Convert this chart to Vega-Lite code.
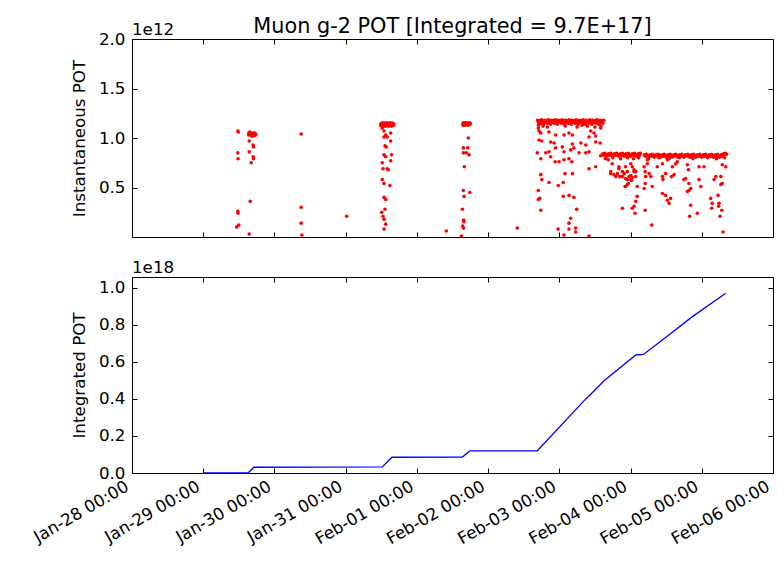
{
"$schema": "https://vega.github.io/schema/vega-lite/v6.json",
"padding": {"left": 30, "top": 15, "right": 8, "bottom": 5},
"background": "white",
"config": {
  "font": "DejaVu Sans",
  "view": {"stroke": "#000000", "strokeWidth": 1},
  "axis": {"grid": false, "domain": false, "tickColor": "#000000", "tickSize": -5, "tickWidth": 1, "labelFont": "DejaVu Sans", "labelFontSize": 16.7, "labelColor": "#000000", "titleFont": "DejaVu Sans", "titleFontSize": 16.7, "titleFontWeight": "normal", "titleColor": "#000000", "labelOverlap": false}
},
"datasets": {
"inst": [
{"t":"2018-01-29T11:40","v":1.07},{"t":"2018-01-29T11:50","v":1.06},{"t":"2018-01-29T11:40","v":0.85},{"t":"2018-01-29T11:45","v":0.79},{"t":"2018-01-29T11:40","v":0.26},{"t":"2018-01-29T11:45","v":0.24},{"t":"2018-01-29T11:15","v":0.10},{"t":"2018-01-29T12:00","v":0.12},
{"t":"2018-01-29T15:20","v":1.05},{"t":"2018-01-29T15:20","v":1.03},{"t":"2018-01-29T15:40","v":1.06},{"t":"2018-01-29T15:40","v":1.04},{"t":"2018-01-29T16:00","v":1.03},{"t":"2018-01-29T16:00","v":1.05},{"t":"2018-01-29T16:20","v":1.04},{"t":"2018-01-29T16:20","v":1.02},{"t":"2018-01-29T16:40","v":1.05},{"t":"2018-01-29T16:40","v":1.03},{"t":"2018-01-29T17:00","v":1.04},{"t":"2018-01-29T17:00","v":1.02},{"t":"2018-01-29T17:20","v":1.03},{"t":"2018-01-29T17:20","v":1.05},{"t":"2018-01-29T17:40","v":1.04},{"t":"2018-01-29T17:40","v":1.03},
{"t":"2018-01-29T15:30","v":0.97},{"t":"2018-01-29T15:30","v":0.86},{"t":"2018-01-29T16:50","v":0.93},{"t":"2018-01-29T16:55","v":0.91},{"t":"2018-01-29T16:50","v":0.81},{"t":"2018-01-29T16:55","v":0.79},{"t":"2018-01-29T16:10","v":0.75},{"t":"2018-01-29T15:50","v":0.36},{"t":"2018-01-29T15:30","v":0.03},
{"t":"2018-01-30T09:00","v":1.04},{"t":"2018-01-30T09:00","v":0.30},{"t":"2018-01-30T09:00","v":0.14},{"t":"2018-01-30T09:15","v":0.02},{"t":"2018-01-31T00:20","v":0.21},
{"t":"2018-01-31T11:50","v":1.14},{"t":"2018-01-31T11:50","v":1.13},{"t":"2018-01-31T12:10","v":1.15},{"t":"2018-01-31T12:10","v":1.12},{"t":"2018-01-31T12:30","v":1.13},{"t":"2018-01-31T12:30","v":1.15},{"t":"2018-01-31T12:50","v":1.14},{"t":"2018-01-31T12:50","v":1.12},{"t":"2018-01-31T13:10","v":1.15},{"t":"2018-01-31T13:10","v":1.13},{"t":"2018-01-31T13:30","v":1.14},{"t":"2018-01-31T13:30","v":1.12},{"t":"2018-01-31T13:50","v":1.13},{"t":"2018-01-31T13:50","v":1.15},{"t":"2018-01-31T14:10","v":1.15},{"t":"2018-01-31T14:10","v":1.14},{"t":"2018-01-31T14:30","v":1.14},{"t":"2018-01-31T14:30","v":1.12},{"t":"2018-01-31T14:50","v":1.13},{"t":"2018-01-31T14:50","v":1.15},{"t":"2018-01-31T15:10","v":1.15},{"t":"2018-01-31T15:10","v":1.13},{"t":"2018-01-31T15:30","v":1.14},{"t":"2018-01-31T15:30","v":1.12},{"t":"2018-01-31T15:50","v":1.13},{"t":"2018-01-31T15:50","v":1.15},{"t":"2018-01-31T16:10","v":1.14},{"t":"2018-01-31T16:10","v":1.13},
{"t":"2018-01-31T12:20","v":1.10},{"t":"2018-01-31T12:55","v":1.07},{"t":"2018-01-31T15:10","v":1.05},{"t":"2018-01-31T13:30","v":1.03},{"t":"2018-01-31T12:55","v":1.01},{"t":"2018-01-31T14:00","v":1.01},{"t":"2018-01-31T15:10","v":0.97},{"t":"2018-01-31T13:15","v":0.92},{"t":"2018-01-31T13:40","v":0.91},{"t":"2018-01-31T12:55","v":0.83},{"t":"2018-01-31T13:30","v":0.81},{"t":"2018-01-31T15:30","v":0.83},{"t":"2018-01-31T12:20","v":0.75},{"t":"2018-01-31T15:10","v":0.77},{"t":"2018-01-31T12:35","v":0.69},{"t":"2018-01-31T14:00","v":0.69},{"t":"2018-01-31T14:20","v":0.68},{"t":"2018-01-31T12:20","v":0.58},{"t":"2018-01-31T12:55","v":0.54},{"t":"2018-01-31T14:55","v":0.52},{"t":"2018-01-31T12:55","v":0.40},{"t":"2018-01-31T13:30","v":0.38},{"t":"2018-01-31T13:15","v":0.28},{"t":"2018-01-31T12:10","v":0.25},{"t":"2018-01-31T12:35","v":0.21},{"t":"2018-01-31T12:55","v":0.18},{"t":"2018-01-31T13:30","v":0.13},{"t":"2018-01-31T12:55","v":0.08},
{"t":"2018-02-01T09:55","v":0.06},
{"t":"2018-02-01T15:35","v":1.15},{"t":"2018-02-01T15:35","v":1.13},{"t":"2018-02-01T15:55","v":1.14},{"t":"2018-02-01T15:55","v":1.15},{"t":"2018-02-01T16:15","v":1.15},{"t":"2018-02-01T16:15","v":1.13},{"t":"2018-02-01T16:35","v":1.14},{"t":"2018-02-01T16:35","v":1.15},{"t":"2018-02-01T16:55","v":1.15},{"t":"2018-02-01T16:55","v":1.14},{"t":"2018-02-01T17:15","v":1.13},{"t":"2018-02-01T17:15","v":1.15},{"t":"2018-02-01T17:35","v":1.15},{"t":"2018-02-01T17:35","v":1.14},{"t":"2018-02-01T17:55","v":1.14},{"t":"2018-02-01T17:55","v":1.15},
{"t":"2018-02-01T17:20","v":1.00},{"t":"2018-02-01T15:40","v":0.90},{"t":"2018-02-01T17:10","v":0.90},{"t":"2018-02-01T15:40","v":0.85},{"t":"2018-02-01T16:40","v":0.85},{"t":"2018-02-01T17:35","v":0.83},{"t":"2018-02-01T16:00","v":0.71},{"t":"2018-02-01T15:40","v":0.47},{"t":"2018-02-01T17:50","v":0.45},{"t":"2018-02-01T15:55","v":0.41},{"t":"2018-02-01T15:20","v":0.28},{"t":"2018-02-01T15:45","v":0.17},{"t":"2018-02-01T15:50","v":0.155},{"t":"2018-02-01T15:25","v":0.11},{"t":"2018-02-01T15:45","v":0.09},{"t":"2018-02-01T15:00","v":0.01},
{"t":"2018-02-02T09:50","v":0.09},
{"t":"2018-02-02T16:40","v":1.18},{"t":"2018-02-02T17:00","v":1.16},{"t":"2018-02-02T17:20","v":1.175},{"t":"2018-02-02T17:40","v":1.15},{"t":"2018-02-02T18:00","v":1.185},{"t":"2018-02-02T18:20","v":1.165},{"t":"2018-02-02T18:40","v":1.14},{"t":"2018-02-02T19:00","v":1.18},{"t":"2018-02-02T19:20","v":1.16},{"t":"2018-02-02T19:40","v":1.175},{"t":"2018-02-02T20:00","v":1.15},{"t":"2018-02-02T20:20","v":1.185},{"t":"2018-02-02T20:40","v":1.165},{"t":"2018-02-02T21:00","v":1.14},{"t":"2018-02-02T21:20","v":1.18},{"t":"2018-02-02T21:40","v":1.16},{"t":"2018-02-02T22:00","v":1.175},{"t":"2018-02-02T22:20","v":1.15},{"t":"2018-02-02T22:40","v":1.185},{"t":"2018-02-02T23:00","v":1.165},{"t":"2018-02-02T23:20","v":1.14},{"t":"2018-02-02T23:40","v":1.18},
{"t":"2018-02-03T00:00","v":1.16},{"t":"2018-02-03T00:20","v":1.175},{"t":"2018-02-03T00:40","v":1.15},{"t":"2018-02-03T01:00","v":1.185},{"t":"2018-02-03T01:20","v":1.165},{"t":"2018-02-03T01:40","v":1.14},{"t":"2018-02-03T02:00","v":1.18},{"t":"2018-02-03T02:20","v":1.16},{"t":"2018-02-03T02:40","v":1.175},{"t":"2018-02-03T03:00","v":1.15},{"t":"2018-02-03T03:20","v":1.185},{"t":"2018-02-03T03:40","v":1.165},{"t":"2018-02-03T04:00","v":1.14},{"t":"2018-02-03T04:20","v":1.18},{"t":"2018-02-03T04:40","v":1.16},{"t":"2018-02-03T05:00","v":1.175},{"t":"2018-02-03T05:20","v":1.15},{"t":"2018-02-03T05:40","v":1.185},{"t":"2018-02-03T06:00","v":1.165},{"t":"2018-02-03T06:20","v":1.14},{"t":"2018-02-03T06:40","v":1.18},{"t":"2018-02-03T07:00","v":1.16},{"t":"2018-02-03T07:20","v":1.175},{"t":"2018-02-03T07:40","v":1.15},{"t":"2018-02-03T08:00","v":1.185},{"t":"2018-02-03T08:20","v":1.165},{"t":"2018-02-03T08:40","v":1.14},{"t":"2018-02-03T09:00","v":1.18},{"t":"2018-02-03T09:20","v":1.16},{"t":"2018-02-03T09:40","v":1.175},{"t":"2018-02-03T10:00","v":1.15},{"t":"2018-02-03T10:20","v":1.185},{"t":"2018-02-03T10:40","v":1.165},{"t":"2018-02-03T11:00","v":1.14},{"t":"2018-02-03T11:20","v":1.18},{"t":"2018-02-03T11:40","v":1.16},{"t":"2018-02-03T12:00","v":1.175},{"t":"2018-02-03T12:20","v":1.15},{"t":"2018-02-03T12:40","v":1.185},{"t":"2018-02-03T13:00","v":1.165},{"t":"2018-02-03T13:20","v":1.14},{"t":"2018-02-03T13:40","v":1.18},{"t":"2018-02-03T14:00","v":1.16},{"t":"2018-02-03T14:20","v":1.175},{"t":"2018-02-03T14:40","v":1.15},{"t":"2018-02-03T15:00","v":1.18},
{"t":"2018-02-02T16:55","v":1.10},{"t":"2018-02-02T17:10","v":1.07},{"t":"2018-02-02T17:45","v":1.05},{"t":"2018-02-02T20:30","v":1.06},{"t":"2018-02-02T22:45","v":1.03},{"t":"2018-02-03T01:35","v":1.03},{"t":"2018-02-03T03:15","v":1.05},{"t":"2018-02-03T04:25","v":1.03},{"t":"2018-02-03T10:35","v":1.07},{"t":"2018-02-03T11:40","v":1.05},{"t":"2018-02-03T12:15","v":1.02},{"t":"2018-02-03T13:55","v":1.10},
{"t":"2018-02-02T17:10","v":0.98},{"t":"2018-02-02T18:05","v":0.97},{"t":"2018-02-02T21:05","v":0.96},{"t":"2018-02-02T22:15","v":0.95},{"t":"2018-02-03T01:00","v":0.91},{"t":"2018-02-03T04:25","v":0.94},{"t":"2018-02-03T07:15","v":0.95},{"t":"2018-02-03T08:55","v":0.93},{"t":"2018-02-03T12:15","v":0.96},{"t":"2018-02-03T13:45","v":0.95},{"t":"2018-02-03T10:00","v":1.01},
{"t":"2018-02-02T16:35","v":0.85},{"t":"2018-02-02T19:25","v":0.85},{"t":"2018-02-02T20:30","v":0.86},{"t":"2018-02-02T22:45","v":0.90},{"t":"2018-02-03T01:35","v":0.86},{"t":"2018-02-03T03:50","v":0.88},{"t":"2018-02-03T04:55","v":0.90},{"t":"2018-02-03T06:40","v":0.85},{"t":"2018-02-03T08:55","v":0.85},{"t":"2018-02-03T10:00","v":0.86},{"t":"2018-02-03T13:55","v":0.82},
{"t":"2018-02-02T17:45","v":0.79},{"t":"2018-02-02T21:05","v":0.81},{"t":"2018-02-02T22:35","v":0.76},{"t":"2018-02-02T23:55","v":0.76},{"t":"2018-02-03T01:35","v":0.78},{"t":"2018-02-03T03:15","v":0.79},{"t":"2018-02-03T04:10","v":0.76},{"t":"2018-02-03T10:00","v":0.69},{"t":"2018-02-03T12:15","v":0.71},
{"t":"2018-02-02T17:45","v":0.63},{"t":"2018-02-02T18:05","v":0.58},{"t":"2018-02-02T20:30","v":0.55},{"t":"2018-02-03T01:55","v":0.64},{"t":"2018-02-03T04:25","v":0.64},{"t":"2018-02-03T01:20","v":0.55},{"t":"2018-02-02T23:40","v":0.52},
{"t":"2018-02-02T16:55","v":0.47},{"t":"2018-02-02T16:55","v":0.38},{"t":"2018-02-02T17:25","v":0.39},{"t":"2018-02-03T01:20","v":0.41},{"t":"2018-02-03T03:15","v":0.42},{"t":"2018-02-03T04:55","v":0.40},
{"t":"2018-02-02T17:45","v":0.27},{"t":"2018-02-03T05:50","v":0.28},{"t":"2018-02-03T03:50","v":0.19},{"t":"2018-02-03T03:15","v":0.14},{"t":"2018-02-03T05:30","v":0.09},{"t":"2018-02-03T03:15","v":0.08},{"t":"2018-02-02T23:35","v":0.08},{"t":"2018-02-03T05:30","v":0.05},{"t":"2018-02-03T01:35","v":0.02},{"t":"2018-02-03T10:00","v":0.01},
{"t":"2018-02-02T18:30","v":1.12},{"t":"2018-02-02T20:00","v":1.11},{"t":"2018-02-03T02:00","v":1.12},{"t":"2018-02-03T06:00","v":1.11},{"t":"2018-02-03T09:30","v":1.12},{"t":"2018-02-03T12:00","v":1.11},{"t":"2018-02-03T14:00","v":1.12},{"t":"2018-02-02T17:00","v":1.13},{"t":"2018-02-03T07:40","v":1.13},
{"t":"2018-02-03T14:40","v":0.84},{"t":"2018-02-03T15:00","v":0.825},{"t":"2018-02-03T15:20","v":0.845},{"t":"2018-02-03T15:40","v":0.83},{"t":"2018-02-03T16:00","v":0.815},{"t":"2018-02-03T16:20","v":0.835},{"t":"2018-02-03T16:40","v":0.84},{"t":"2018-02-03T17:00","v":0.825},{"t":"2018-02-03T17:20","v":0.845},{"t":"2018-02-03T17:40","v":0.83},{"t":"2018-02-03T18:00","v":0.815},{"t":"2018-02-03T18:20","v":0.835},{"t":"2018-02-03T18:40","v":0.84},{"t":"2018-02-03T19:00","v":0.825},{"t":"2018-02-03T19:20","v":0.845},{"t":"2018-02-03T19:40","v":0.83},{"t":"2018-02-03T20:00","v":0.815},{"t":"2018-02-03T20:20","v":0.835},{"t":"2018-02-03T20:40","v":0.84},{"t":"2018-02-03T21:00","v":0.825},{"t":"2018-02-03T21:20","v":0.845},{"t":"2018-02-03T21:40","v":0.83},{"t":"2018-02-03T22:00","v":0.815},{"t":"2018-02-03T22:20","v":0.835},{"t":"2018-02-03T22:40","v":0.84},{"t":"2018-02-03T23:00","v":0.825},{"t":"2018-02-03T23:20","v":0.845},{"t":"2018-02-03T23:40","v":0.83},
{"t":"2018-02-04T00:00","v":0.815},{"t":"2018-02-04T00:20","v":0.835},{"t":"2018-02-04T00:40","v":0.84},{"t":"2018-02-04T01:00","v":0.825},{"t":"2018-02-04T01:20","v":0.845},{"t":"2018-02-04T01:40","v":0.83},{"t":"2018-02-04T02:00","v":0.815},{"t":"2018-02-04T02:20","v":0.835},{"t":"2018-02-04T02:40","v":0.84},{"t":"2018-02-04T03:00","v":0.825},{"t":"2018-02-04T03:20","v":0.845},
{"t":"2018-02-03T16:30","v":0.78},{"t":"2018-02-03T17:50","v":0.74},{"t":"2018-02-03T17:20","v":0.64},{"t":"2018-02-03T17:20","v":0.66},{"t":"2018-02-03T18:25","v":0.63},{"t":"2018-02-03T19:00","v":0.61},{"t":"2018-02-03T19:35","v":0.64},{"t":"2018-02-03T20:05","v":0.69},{"t":"2018-02-03T20:05","v":0.71},{"t":"2018-02-03T20:20","v":0.61},{"t":"2018-02-03T21:15","v":0.66},{"t":"2018-02-03T21:15","v":0.61},{"t":"2018-02-03T21:50","v":0.64},{"t":"2018-02-03T22:20","v":0.59},{"t":"2018-02-03T22:20","v":0.71},{"t":"2018-02-03T22:55","v":0.58},{"t":"2018-02-03T22:55","v":0.66},{"t":"2018-02-03T23:30","v":0.61},{"t":"2018-02-04T00:05","v":0.74},{"t":"2018-02-04T00:05","v":0.58},{"t":"2018-02-04T00:35","v":0.71},{"t":"2018-02-04T01:10","v":0.68},{"t":"2018-02-04T01:10","v":0.66},{"t":"2018-02-04T01:45","v":0.66},{"t":"2018-02-04T01:45","v":0.61},{"t":"2018-02-03T23:15","v":0.54},{"t":"2018-02-03T22:20","v":0.51},{"t":"2018-02-04T02:15","v":0.51},{"t":"2018-02-03T21:15","v":0.29},{"t":"2018-02-03T22:10","v":0.51},{"t":"2018-02-03T22:55","v":0.53},{"t":"2018-02-04T01:10","v":0.31},{"t":"2018-02-04T01:45","v":0.36},{"t":"2018-02-04T02:15","v":0.41},{"t":"2018-02-04T01:30","v":0.24},{"t":"2018-02-04T00:35","v":0.29},{"t":"2018-02-04T00:20","v":0.57},{"t":"2018-02-04T00:35","v":0.60},{"t":"2018-02-04T00:05","v":0.62},
{"t":"2018-02-03T15:30","v":0.79},{"t":"2018-02-03T18:00","v":0.80},{"t":"2018-02-03T20:40","v":0.79},{"t":"2018-02-03T23:00","v":0.80},{"t":"2018-02-04T01:00","v":0.79},{"t":"2018-02-04T02:40","v":0.80},
{"t":"2018-02-04T04:40","v":0.83},{"t":"2018-02-04T05:00","v":0.815},{"t":"2018-02-04T05:20","v":0.835},{"t":"2018-02-04T05:40","v":0.82},{"t":"2018-02-04T06:00","v":0.805},{"t":"2018-02-04T06:20","v":0.825},{"t":"2018-02-04T06:40","v":0.83},{"t":"2018-02-04T07:00","v":0.815},{"t":"2018-02-04T07:20","v":0.835},{"t":"2018-02-04T07:40","v":0.82},{"t":"2018-02-04T08:00","v":0.805},{"t":"2018-02-04T08:20","v":0.825},{"t":"2018-02-04T08:40","v":0.83},{"t":"2018-02-04T09:00","v":0.815},{"t":"2018-02-04T09:20","v":0.835},{"t":"2018-02-04T09:40","v":0.82},{"t":"2018-02-04T10:00","v":0.805},{"t":"2018-02-04T10:20","v":0.825},{"t":"2018-02-04T10:40","v":0.83},{"t":"2018-02-04T11:00","v":0.815},{"t":"2018-02-04T11:20","v":0.835},{"t":"2018-02-04T11:40","v":0.82},{"t":"2018-02-04T12:00","v":0.805},{"t":"2018-02-04T12:20","v":0.825},{"t":"2018-02-04T12:40","v":0.83},{"t":"2018-02-04T13:00","v":0.815},{"t":"2018-02-04T13:20","v":0.835},{"t":"2018-02-04T13:40","v":0.82},{"t":"2018-02-04T14:00","v":0.805},{"t":"2018-02-04T14:20","v":0.825},{"t":"2018-02-04T14:40","v":0.83},{"t":"2018-02-04T15:00","v":0.815},{"t":"2018-02-04T15:20","v":0.835},{"t":"2018-02-04T15:40","v":0.82},{"t":"2018-02-04T16:00","v":0.805},{"t":"2018-02-04T16:20","v":0.825},{"t":"2018-02-04T16:40","v":0.83},{"t":"2018-02-04T17:00","v":0.815},{"t":"2018-02-04T17:20","v":0.835},{"t":"2018-02-04T17:40","v":0.82},{"t":"2018-02-04T18:00","v":0.805},{"t":"2018-02-04T18:20","v":0.825},{"t":"2018-02-04T18:40","v":0.83},{"t":"2018-02-04T19:00","v":0.815},{"t":"2018-02-04T19:20","v":0.835},{"t":"2018-02-04T19:40","v":0.82},{"t":"2018-02-04T20:00","v":0.805},{"t":"2018-02-04T20:20","v":0.825},{"t":"2018-02-04T20:40","v":0.83},{"t":"2018-02-04T21:00","v":0.815},{"t":"2018-02-04T21:20","v":0.835},{"t":"2018-02-04T21:40","v":0.82},{"t":"2018-02-04T22:00","v":0.805},{"t":"2018-02-04T22:20","v":0.825},{"t":"2018-02-04T22:40","v":0.83},{"t":"2018-02-04T23:00","v":0.815},{"t":"2018-02-04T23:20","v":0.835},{"t":"2018-02-04T23:40","v":0.82},
{"t":"2018-02-05T00:00","v":0.805},{"t":"2018-02-05T00:20","v":0.825},{"t":"2018-02-05T00:40","v":0.83},{"t":"2018-02-05T01:00","v":0.815},{"t":"2018-02-05T01:20","v":0.835},{"t":"2018-02-05T01:40","v":0.82},{"t":"2018-02-05T02:00","v":0.805},{"t":"2018-02-05T02:20","v":0.825},{"t":"2018-02-05T02:40","v":0.83},{"t":"2018-02-05T03:00","v":0.815},{"t":"2018-02-05T03:20","v":0.835},{"t":"2018-02-05T03:40","v":0.82},{"t":"2018-02-05T04:00","v":0.805},{"t":"2018-02-05T04:20","v":0.825},{"t":"2018-02-05T04:40","v":0.83},{"t":"2018-02-05T05:00","v":0.815},{"t":"2018-02-05T05:20","v":0.835},{"t":"2018-02-05T05:40","v":0.82},{"t":"2018-02-05T06:00","v":0.805},{"t":"2018-02-05T06:20","v":0.825},{"t":"2018-02-05T06:40","v":0.83},{"t":"2018-02-05T07:00","v":0.815},{"t":"2018-02-05T07:20","v":0.84},{"t":"2018-02-05T07:40","v":0.83},{"t":"2018-02-05T08:00","v":0.845},{"t":"2018-02-05T08:20","v":0.835},
{"t":"2018-02-04T04:35","v":0.71},{"t":"2018-02-04T04:55","v":0.66},{"t":"2018-02-04T05:05","v":0.61},{"t":"2018-02-04T04:55","v":0.54},{"t":"2018-02-04T04:35","v":0.49},{"t":"2018-02-04T04:55","v":0.27},{"t":"2018-02-04T05:40","v":0.74},{"t":"2018-02-04T05:40","v":0.78},{"t":"2018-02-04T06:15","v":0.64},{"t":"2018-02-04T06:50","v":0.61},{"t":"2018-02-04T07:20","v":0.51},{"t":"2018-02-04T07:10","v":0.12},{"t":"2018-02-04T09:00","v":0.71},{"t":"2018-02-04T10:45","v":0.74},{"t":"2018-02-04T10:45","v":0.61},{"t":"2018-02-04T10:55","v":0.58},{"t":"2018-02-04T10:45","v":0.44},{"t":"2018-02-04T11:50","v":0.42},{"t":"2018-02-04T11:50","v":0.64},{"t":"2018-02-04T12:25","v":0.37},{"t":"2018-02-04T12:25","v":0.78},{"t":"2018-02-04T13:00","v":0.34},{"t":"2018-02-04T13:30","v":0.39},{"t":"2018-02-04T14:05","v":0.71},{"t":"2018-02-04T13:50","v":0.61},{"t":"2018-02-04T14:40","v":0.63},{"t":"2018-02-04T15:15","v":0.74},{"t":"2018-02-04T15:45","v":0.76},{"t":"2018-02-04T18:00","v":0.58},{"t":"2018-02-04T18:35","v":0.59},{"t":"2018-02-04T19:10","v":0.73},{"t":"2018-02-04T19:30","v":0.68},{"t":"2018-02-04T19:40","v":0.47},{"t":"2018-02-04T20:15","v":0.49},{"t":"2018-02-04T19:55","v":0.21},{"t":"2018-02-04T20:15","v":0.32},{"t":"2018-02-04T22:30","v":0.24},{"t":"2018-02-04T23:05","v":0.71},{"t":"2018-02-04T23:05","v":0.58},{"t":"2018-02-04T23:40","v":0.51},{"t":"2018-02-05T00:45","v":0.71},{"t":"2018-02-05T03:00","v":0.39},{"t":"2018-02-05T03:20","v":0.29},{"t":"2018-02-05T04:10","v":0.58},{"t":"2018-02-05T04:45","v":0.61},{"t":"2018-02-05T05:30","v":0.42},{"t":"2018-02-05T05:50","v":0.34},{"t":"2018-02-05T06:25","v":0.53},{"t":"2018-02-05T06:10","v":0.21},{"t":"2018-02-05T06:45","v":0.27},{"t":"2018-02-05T06:55","v":0.73},{"t":"2018-02-05T07:10","v":0.05},{"t":"2018-02-05T08:05","v":0.71},{"t":"2018-02-04T19:40","v":0.54},{"t":"2018-02-04T19:10","v":0.46},{"t":"2018-02-05T03:30","v":0.34},{"t":"2018-02-05T05:40","v":0.31},{"t":"2018-02-05T06:55","v":0.54},{"t":"2018-02-05T06:25","v":0.61},
{"t":"2018-02-04T06:00","v":0.79},{"t":"2018-02-04T09:30","v":0.80},{"t":"2018-02-04T13:00","v":0.79},{"t":"2018-02-04T16:30","v":0.80},{"t":"2018-02-04T21:00","v":0.79},{"t":"2018-02-05T02:00","v":0.80},{"t":"2018-02-05T05:00","v":0.79},{"t":"2018-02-05T07:40","v":0.80}
],
"integ": [
{"t":"2018-01-29T00:00","v":0},{"t":"2018-01-29T15:10","v":0.001},{"t":"2018-01-29T17:05","v":0.031},{"t":"2018-01-31T12:20","v":0.033},{"t":"2018-01-31T15:35","v":0.085},{"t":"2018-02-01T15:20","v":0.086},{"t":"2018-02-01T17:50","v":0.119},{"t":"2018-02-02T16:35","v":0.120},{"t":"2018-02-03T08:55","v":0.400},{"t":"2018-02-03T09:45","v":0.412},{"t":"2018-02-03T15:05","v":0.498},{"t":"2018-02-04T01:45","v":0.637},{"t":"2018-02-04T04:20","v":0.640},{"t":"2018-02-04T11:50","v":0.732},{"t":"2018-02-04T20:50","v":0.844},{"t":"2018-02-05T08:05","v":0.970}
]
},
"spacing": 40,
"bounds": "flush",
"vconcat": [
{
  "width": 641, "height": 198,
  "layer": [
    {"data": {"name": "inst"},
     "mark": {"type": "circle", "color": "#ff0000", "size": 13, "opacity": 1},
     "encoding": {
       "x": {"field": "t", "type": "temporal", "scale": {"domain": [{"year": 2018, "month": "jan", "date": 28}, {"year": 2018, "month": "feb", "date": 6}], "nice": false},
             "axis": {"orient": "bottom", "labels": false, "title": null, "tickCount": {"interval": "day", "step": 1}}},
       "y": {"field": "v", "type": "quantitative", "scale": {"domain": [0, 2], "nice": false},
             "axis": {"orient": "left", "title": "Instantaneous POT", "values": [0.5, 1, 1.5, 2], "format": ".1f", "labelPadding": 12, "titlePadding": 10}}
     }},
    {"data": {"values": [{"s": "1e12"}]},
     "mark": {"type": "text", "align": "left", "baseline": "alphabetic", "dy": -4, "fontSize": 16.7, "color": "#000000"},
     "encoding": {
       "x": {"datum": {"year": 2018, "month": "jan", "date": 28}, "type": "temporal", "axis": {"orient": "top", "labels": false, "title": null, "tickCount": {"interval": "day", "step": 1}}},
       "y": {"datum": 2, "type": "quantitative", "axis": {"orient": "right", "labels": false, "title": null, "values": [0.5, 1, 1.5, 2]}},
       "text": {"field": "s"}
     }},
    {"data": {"values": [{"s": "Muon g-2 POT [Integrated = 9.7E+17]"}]},
     "mark": {"type": "text", "align": "center", "baseline": "alphabetic", "dy": -6, "fontSize": 20.8, "color": "#000000"},
     "encoding": {
       "x": {"datum": {"year": 2018, "month": "feb", "date": 1, "hours": 12}, "type": "temporal", "axis": null},
       "y": {"datum": 2, "type": "quantitative", "axis": null},
       "text": {"field": "s"}
     }}
  ],
  "resolve": {"axis": {"x": "independent", "y": "independent"}}
},
{
  "width": 641, "height": 196,
  "layer": [
    {"data": {"name": "integ"},
     "mark": {"type": "line", "color": "#0000ff", "strokeWidth": 1.3},
     "encoding": {
       "x": {"field": "t", "type": "temporal", "scale": {"domain": [{"year": 2018, "month": "jan", "date": 28}, {"year": 2018, "month": "feb", "date": 6}], "nice": false},
             "axis": {"orient": "bottom", "title": null, "tickCount": {"interval": "day", "step": 1}, "format": "%b-%d %H:%M", "labelAngle": -30, "labelAlign": "right", "labelBaseline": "top", "labelPadding": 10, "labelOffset": -9, "labelBound": false, "labelFlush": false}},
       "y": {"field": "v", "type": "quantitative", "scale": {"domain": [0, 1.058], "nice": false, "zero": false},
             "axis": {"orient": "left", "title": "Integrated POT", "values": [0, 0.2, 0.4, 0.6, 0.8, 1.0], "format": ".1f", "labelPadding": 12, "titlePadding": 10}}
     }},
    {"data": {"values": [{"s": "1e18"}]},
     "mark": {"type": "text", "align": "left", "baseline": "alphabetic", "dy": -4, "fontSize": 16.7, "color": "#000000"},
     "encoding": {
       "x": {"datum": {"year": 2018, "month": "jan", "date": 28}, "type": "temporal", "axis": {"orient": "top", "labels": false, "title": null, "tickCount": {"interval": "day", "step": 1}}},
       "y": {"datum": 1.058, "type": "quantitative", "axis": {"orient": "right", "labels": false, "title": null, "values": [0, 0.2, 0.4, 0.6, 0.8, 1.0]}},
       "text": {"field": "s"}
     }}
  ],
  "resolve": {"axis": {"x": "independent", "y": "independent"}}
}
]
}
